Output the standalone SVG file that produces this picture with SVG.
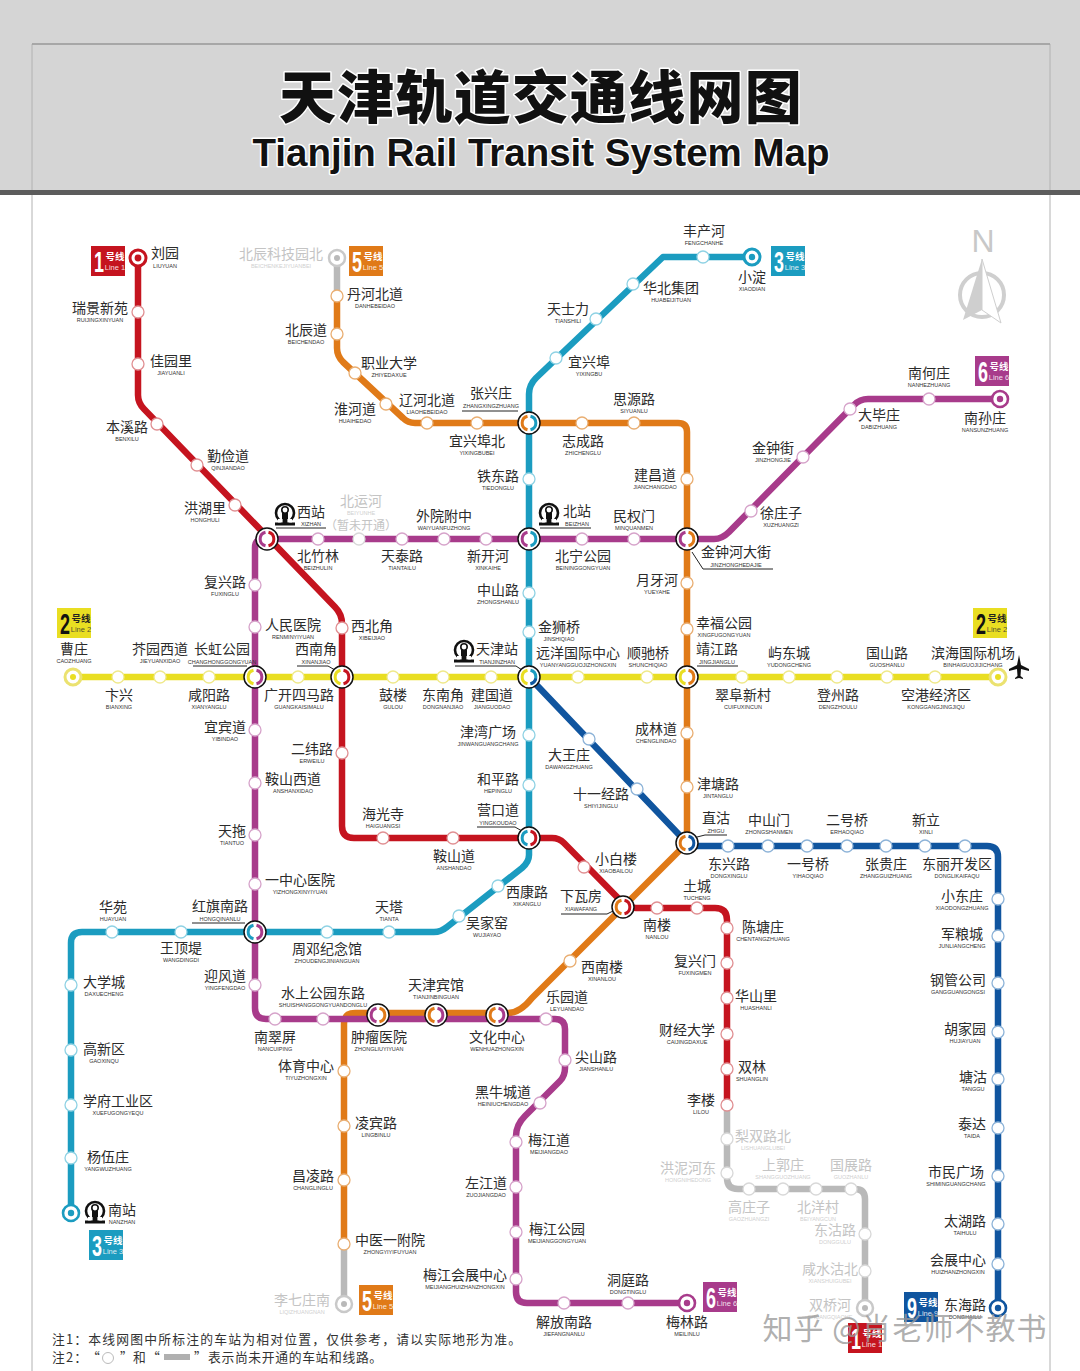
<svg xmlns="http://www.w3.org/2000/svg" xmlns:xlink="http://www.w3.org/1999/xlink" width="1080" height="1371" viewBox="0 0 1080 1371">
<style>
text{font-family:"Noto Sans CJK SC","Liberation Sans",sans-serif;text-anchor:middle}
.cn{font-size:14px;fill:#2b2b2b}
.py{font-size:5.5px;fill:#333;font-family:"Liberation Sans",sans-serif}
.g .cn{fill:#c4c4c4}.g .py{fill:#d0d0d0}
.ln{fill:none;stroke-width:6.5;stroke-linejoin:round}
.l1{stroke:#c5141f}.l2{stroke:#e9de22}.l3{stroke:#1b9cc0}.l5{stroke:#e07a18}.l6{stroke:#a83b8b}.l9{stroke:#10559f}.lg{stroke:#b9b9b9}
.s{fill:#fff;stroke-width:1.3;r:6px}
.s1{stroke:#e08f92}.s2{stroke:#efe98a}.s3{stroke:#8fd2e4}.s5{stroke:#e9ae72}.s6{stroke:#d6a3ca}.s9{stroke:#8db3d8}.sg{stroke:#d8d8d8}
.x{fill:#fff;stroke:#111;stroke-width:1.5}
.c{fill:none;stroke-width:3}
.lead{fill:none;stroke:#222;stroke-width:1}
.bn{font-size:29px;font-weight:700;font-family:"Liberation Sans",sans-serif;fill:#fff}
.bh{font-size:9.500px;font-weight:700;fill:#fff}
.bl{font-size:7.500px;font-family:"Liberation Sans",sans-serif;fill:#fff;fill-opacity:.85}
.y .bn{fill:#111}.y .bh{fill:#222}.y .bl{fill:#333}
.note{font-size:12.800px;text-anchor:start;fill:#333}
</style>
<defs>
<path id="cl" d="M-1.5,-6.8A7,7 0 0 0 -1.5,6.8"/>
<path id="cr" d="M1.5,-6.8A7,7 0 0 1 1.5,6.8"/>
<g id="rail"><circle cx="0" cy="-2" r="9" fill="none" stroke="#111" stroke-width="2.6"/><rect x="-3" y="-5" width="6" height="12" fill="#111"/><circle cx="0" cy="-5" r="3.2" fill="#fff" stroke="#111" stroke-width="1.6"/><rect x="-10" y="7.500" width="20" height="3" fill="#111"/><rect x="-7" y="4" width="14" height="3.400" fill="#fff"/><rect x="-2.400" y="3" width="4.800" height="5" fill="#111"/></g>
</defs>
<rect width="1080" height="1371" fill="#fff"/>
<g id="header">
<rect x="0" y="0" width="1080" height="190" fill="#d5d5d5"/>
<path d="M32,1371V44H1050V1371" fill="none" stroke="#b2b2b2" stroke-width="1"/>
<path d="M32,44H1050" fill="none" stroke="#9e9e9e" stroke-width="1.5"/>
<rect x="0" y="190" width="1080" height="5" fill="#5c5c5c"/>
<text x="541" y="118" style="font-size:57px;font-weight:900;letter-spacing:1.2px;paint-order:stroke;stroke:#fff;stroke-width:3px;stroke-linejoin:round" fill="#111">天津轨道交通线网图</text>
<text x="541" y="166" style="font-family:'Liberation Sans',sans-serif;font-size:38.5px;font-weight:700;paint-order:stroke;stroke:#fff;stroke-width:3px;stroke-linejoin:round" fill="#111">Tianjin Rail Transit System Map</text>
</g>
<g id="connectors">
<path class="ln lg" d="M337,258V296"/>
<path class="ln lg" d="M344,1244V1304"/>
<path class="ln lg" d="M727,1105V1178Q727,1189 738,1189H855Q865,1189 865,1199V1308"/>
<path class="ln l3" d="M752,257H663L536,378Q529,385 529,394V855Q529,862 522,868L447,927Q441,932 434,932H82Q71,932 71,943V1213"/>
<path class="ln l5" d="M337,296V348Q337,356 343,362L403,418Q408,423 415,423H678Q687,423 687,432V843L532,998Q520,1013 508,1013H355Q344,1013 344,1024V1244"/>
<path class="ln l6" d="M1000,399H868Q860,399 854,405L729,532Q722,539 714,539H264Q255,539 255,548V1008Q255,1019 266,1019H555Q565,1019 565,1029V1068Q565,1076 560,1081L525,1116Q516,1125 516,1136V1292Q516,1303 527,1303H687"/>
<path class="ln l2" d="M73,677H998"/>
<path class="ln l1" d="M138,258V395Q138,403 144,409L335,607Q342,614 342,624V826Q342,838 354,838H552Q559,838 564,843L620,900Q627,908 636,908H715Q727,908 727,920V1105"/>
<path class="ln l9" d="M529,677L687,843Q689,846 694,846H987Q998,846 998,857V1308"/>
</g>
<g id="leaders">
<path class="lead" d="M462,411H518M276,528H326M540,528H591M455,666H516L522,670M193,666H247M297,666H328L335,670M697,666H738M692,552L703,569H773M697,837L705,835H727M561,914H607L613,911M477,827H515L522,831M192,923H245"/>
</g>
<g id="nodes">
<g id="liuyuan"><circle cx="138" cy="258" r="8" fill="#fff" stroke="#c5141f" stroke-width="3"/><circle cx="138" cy="258" r="3.400" fill="#c5141f"/><text class="cn" x="165" y="258">刘园</text><text class="py" x="165" y="268">LIUYUAN</text></g>
<g id="ruijing"><circle class="s s1" cx="138" cy="312"/><text class="cn" x="100" y="313">瑞景新苑</text><text class="py" x="100" y="322">RUIJINGXINYUAN</text></g>
<g id="jiayuanli"><circle class="s s1" cx="138" cy="364"/><text class="cn" x="171" y="366">佳园里</text><text class="py" x="171" y="375">JIAYUANLI</text></g>
<g id="benxilu"><circle class="s s1" cx="157" cy="424"/><text class="cn" x="127" y="432">本溪路</text><text class="py" x="127" y="441">BENXILU</text></g>
<g id="qinjiandao"><circle class="s s1" cx="197" cy="465"/><text class="cn" x="228" y="461">勤俭道</text><text class="py" x="228" y="470">QINJIANDAO</text></g>
<g id="honghuli"><circle class="s s1" cx="235" cy="505"/><text class="cn" x="205" y="513">洪湖里</text><text class="py" x="205" y="522">HONGHULI</text></g>
<g id="xibeijiao"><circle class="s s1" cx="342" cy="628"/><text class="cn" x="372" y="631">西北角</text><text class="py" x="372" y="640">XIBEIJIAO</text></g>
<g id="erweilu"><circle class="s s1" cx="342" cy="753"/><text class="cn" x="312" y="754">二纬路</text><text class="py" x="312" y="763">ERWEILU</text></g>
<g id="haiguangsi"><circle class="s s1" cx="383" cy="838"/><text class="cn" x="383" y="819">海光寺</text><text class="py" x="383" y="828">HAIGUANGSI</text></g>
<g id="anshandao"><circle class="s s1" cx="453" cy="838"/><text class="cn" x="454" y="861">鞍山道</text><text class="py" x="454" y="870">ANSHANDAO</text></g>
<g id="xiaobailou"><circle class="s s1" cx="584" cy="867"/><text class="cn" x="616" y="864">小白楼</text><text class="py" x="616" y="873">XIAOBAILOU</text></g>
<g id="nanlou"><circle class="s s1" cx="657" cy="908"/><text class="cn" x="657" y="930">南楼</text><text class="py" x="657" y="939">NANLOU</text></g>
<g id="tucheng"><circle class="s s1" cx="697" cy="908"/><text class="cn" x="697" y="891">土城</text><text class="py" x="697" y="900">TUCHENG</text></g>
<g id="chentangzhuang"><circle class="s s1" cx="727" cy="928"/><text class="cn" x="763" y="932">陈塘庄</text><text class="py" x="763" y="941">CHENTANGZHUANG</text></g>
<g id="fuxingmen"><circle class="s s1" cx="727" cy="963"/><text class="cn" x="695" y="966">复兴门</text><text class="py" x="695" y="975">FUXINGMEN</text></g>
<g id="huashanli"><circle class="s s1" cx="727" cy="998"/><text class="cn" x="756" y="1001">华山里</text><text class="py" x="756" y="1010">HUASHANLI</text></g>
<g id="caijingdaxue"><circle class="s s1" cx="727" cy="1034"/><text class="cn" x="687" y="1035">财经大学</text><text class="py" x="687" y="1044">CAIJINGDAXUE</text></g>
<g id="shuanglin"><circle class="s s1" cx="727" cy="1069"/><text class="cn" x="752" y="1072">双林</text><text class="py" x="752" y="1081">SHUANGLIN</text></g>
<g id="lilou"><circle class="s s1" cx="727" cy="1105"/><text class="cn" x="701" y="1105">李楼</text><text class="py" x="701" y="1114">LILOU</text></g>
<g class="g" id="lishuanglubei"><circle class="s sg" cx="727" cy="1139"/><text class="cn" x="763" y="1141">梨双路北</text><text class="py" x="763" y="1150">LISHUANGLUBEI</text></g>
<g class="g" id="hongnihedong"><circle class="s sg" cx="727" cy="1173"/><text class="cn" x="688" y="1173">洪泥河东</text><text class="py" x="688" y="1182">HONGNIHEDONG</text></g>
<g class="g" id="gaozhuangzi"><circle class="s sg" cx="749" cy="1189"/><text class="cn" x="749" y="1212">高庄子</text><text class="py" x="749" y="1221">GAOZHUANGZI</text></g>
<g class="g" id="shangguozhuang"><circle class="s sg" cx="783" cy="1189"/><text class="cn" x="783" y="1170">上郭庄</text><text class="py" x="783" y="1179">SHANGGUOZHUANG</text></g>
<g class="g" id="beiyangcun"><circle class="s sg" cx="816" cy="1189"/><text class="cn" x="818" y="1212">北洋村</text><text class="py" x="818" y="1221">BEIYANGCUN</text></g>
<g class="g" id="guozhanlu"><circle class="s sg" cx="851" cy="1189"/><text class="cn" x="851" y="1170">国展路</text><text class="py" x="851" y="1179">GUOZHANLU</text></g>
<g class="g" id="dongguilu"><circle class="s sg" cx="865" cy="1234"/><text class="cn" x="835" y="1235">东沽路</text><text class="py" x="835" y="1244">DONGGULU</text></g>
<g class="g" id="xianshuigubei"><circle class="s sg" cx="865" cy="1271"/><text class="cn" x="830" y="1274">咸水沽北</text><text class="py" x="830" y="1283">XIANSHUIGUBEI</text></g>
<g class="g" id="shuangqiaohe"><circle cx="865" cy="1308" r="8" fill="#fff" stroke="#c9c9c9" stroke-width="2.500"/><circle cx="865" cy="1308" r="3" fill="#b9b9b9"/><text class="cn" x="830" y="1310">双桥河</text><text class="py" x="830" y="1319">SHUANGQIAOHE</text></g>

<g id="caozhuang"><circle cx="73" cy="677" r="8" fill="#fff" stroke="#ebe270" stroke-width="3"/><circle cx="73" cy="677" r="3" fill="#e9de22"/><text class="cn" x="74" y="654">曹庄</text><text class="py" x="74" y="663">CAOZHUANG</text></g>
<g id="bianxing"><circle class="s s2" cx="118" cy="677"/><text class="cn" x="119" y="700">卞兴</text><text class="py" x="119" y="709">BIANXING</text></g>
<g id="jieyuanxidao"><circle class="s s2" cx="160" cy="677"/><text class="cn" x="160" y="654">芥园西道</text><text class="py" x="160" y="663">JIEYUANXIDAO</text></g>
<g id="xianyanglu"><circle class="s s2" cx="209" cy="677"/><text class="cn" x="209" y="700">咸阳路</text><text class="py" x="209" y="709">XIANYANGLU</text></g>
<g id="guangkaisimalu"><circle class="s s2" cx="298" cy="677"/><text class="cn" x="299" y="700">广开四马路</text><text class="py" x="299" y="709">GUANGKAISIMALU</text></g>
<g id="gulou"><circle class="s s2" cx="393" cy="677"/><text class="cn" x="393" y="700">鼓楼</text><text class="py" x="393" y="709">GULOU</text></g>
<g id="dongnanjiao"><circle class="s s2" cx="443" cy="677"/><text class="cn" x="443" y="700">东南角</text><text class="py" x="443" y="709">DONGNANJIAO</text></g>
<g id="jianguodao"><circle class="s s2" cx="491" cy="677"/><text class="cn" x="492" y="700">建国道</text><text class="py" x="492" y="709">JIANGUODAO</text></g>
<g id="yuanyang"><circle class="s s2" cx="578" cy="677"/><text class="cn" x="578" y="658">远洋国际中心</text><text class="py" x="578" y="667">YUANYANGGUOJIZHONGXIN</text></g>
<g id="shunchiqiao"><circle class="s s2" cx="647" cy="677"/><text class="cn" x="648" y="658">顺驰桥</text><text class="py" x="648" y="667">SHUNCHIQIAO</text></g>
<g id="cuifuxincun"><circle class="s s2" cx="742" cy="677"/><text class="cn" x="743" y="700">翠阜新村</text><text class="py" x="743" y="709">CUIFUXINCUN</text></g>
<g id="yudongcheng"><circle class="s s2" cx="789" cy="677"/><text class="cn" x="789" y="658">屿东城</text><text class="py" x="789" y="667">YUDONGCHENG</text></g>
<g id="dengzhoulu"><circle class="s s2" cx="837" cy="677"/><text class="cn" x="838" y="700">登州路</text><text class="py" x="838" y="709">DENGZHOULU</text></g>
<g id="guoshanlu"><circle class="s s2" cx="887" cy="677"/><text class="cn" x="887" y="658">国山路</text><text class="py" x="887" y="667">GUOSHANLU</text></g>
<g id="konggang"><circle class="s s2" cx="935" cy="677"/><text class="cn" x="936" y="700">空港经济区</text><text class="py" x="936" y="709">KONGGANGJINGJIQU</text></g>
<g id="binhai"><circle cx="998" cy="677" r="8" fill="#fff" stroke="#ebe270" stroke-width="3"/><circle cx="998" cy="677" r="3" fill="#e9de22"/><text class="cn" x="973" y="658">滨海国际机场</text><text class="py" x="973" y="667">BINHAIGUOJIJICHANG</text></g>

<g id="xiaodian"><circle cx="752" cy="257" r="8" fill="#fff" stroke="#1b9cc0" stroke-width="3"/><circle cx="752" cy="257" r="3.200" fill="#1b9cc0"/><text class="cn" x="752" y="282">小淀</text><text class="py" x="752" y="291">XIAODIAN</text></g>
<g id="fengchanhe"><circle class="s s3" cx="703" cy="257"/><text class="cn" x="704" y="236">丰产河</text><text class="py" x="704" y="245">FENGCHANHE</text></g>
<g id="huabei"><circle class="s s3" cx="633" cy="284"/><text class="cn" x="671" y="293">华北集团</text><text class="py" x="671" y="302">HUABEIJITUAN</text></g>
<g id="tianshili"><circle class="s s3" cx="596" cy="319"/><text class="cn" x="568" y="314">天士力</text><text class="py" x="568" y="323">TIANSHILI</text></g>
<g id="yixingbu"><circle class="s s3" cx="556" cy="358"/><text class="cn" x="589" y="367">宜兴埠</text><text class="py" x="589" y="376">YIXINGBU</text></g>
<g id="tiedonglu"><circle class="s s3" cx="529" cy="479"/><text class="cn" x="498" y="481">铁东路</text><text class="py" x="498" y="490">TIEDONGLU</text></g>
<g id="zhongshanlu"><circle class="s s3" cx="529" cy="593"/><text class="cn" x="498" y="595">中山路</text><text class="py" x="498" y="604">ZHONGSHANLU</text></g>
<g id="jinshiqiao"><circle class="s s3" cx="529" cy="632"/><text class="cn" x="559" y="632">金狮桥</text><text class="py" x="559" y="641">JINSHIQIAO</text></g>
<g id="jinwan"><circle class="s s3" cx="529" cy="735"/><text class="cn" x="488" y="737">津湾广场</text><text class="py" x="488" y="746">JINWANGUANGCHANG</text></g>
<g id="hepinglu"><circle class="s s3" cx="529" cy="785"/><text class="cn" x="498" y="784">和平路</text><text class="py" x="498" y="793">HEPINGLU</text></g>
<g id="xikanglu"><circle class="s s3" cx="498" cy="886"/><text class="cn" x="527" y="897">西康路</text><text class="py" x="527" y="906">XIKANGLU</text></g>
<g id="wujiayao"><circle class="s s3" cx="459" cy="916"/><text class="cn" x="487" y="928">吴家窑</text><text class="py" x="487" y="937">WUJIAYAO</text></g>
<g id="tianta"><circle class="s s3" cx="389" cy="932"/><text class="cn" x="389" y="912">天塔</text><text class="py" x="389" y="921">TIANTA</text></g>
<g id="zhoudeng"><circle class="s s3" cx="327" cy="932"/><text class="cn" x="327" y="954">周邓纪念馆</text><text class="py" x="327" y="963">ZHOUDENGJINIANGUAN</text></g>
<g id="wangdingdi"><circle class="s s3" cx="181" cy="932"/><text class="cn" x="181" y="953">王顶堤</text><text class="py" x="181" y="962">WANGDINGDI</text></g>
<g id="huayuan"><circle class="s s3" cx="112" cy="932"/><text class="cn" x="113" y="912">华苑</text><text class="py" x="113" y="921">HUAYUAN</text></g>
<g id="daxuecheng"><circle class="s s3" cx="71" cy="985"/><text class="cn" x="104" y="987">大学城</text><text class="py" x="104" y="996">DAXUECHENG</text></g>
<g id="gaoxinqu"><circle class="s s3" cx="71" cy="1050"/><text class="cn" x="104" y="1054">高新区</text><text class="py" x="104" y="1063">GAOXINQU</text></g>
<g id="xuefu"><circle class="s s3" cx="71" cy="1105"/><text class="cn" x="118" y="1106">学府工业区</text><text class="py" x="118" y="1115">XUEFUGONGYEQU</text></g>
<g id="yangwuzhuang"><circle class="s s3" cx="71" cy="1158"/><text class="cn" x="108" y="1162">杨伍庄</text><text class="py" x="108" y="1171">YANGWUZHUANG</text></g>
<g id="nanzhan"><circle cx="71" cy="1213" r="8" fill="#fff" stroke="#1b9cc0" stroke-width="2.600"/><circle cx="71" cy="1213" r="3.200" fill="#1b9cc0"/><use xlink:href="#rail" x="95" y="1213"/><text class="cn" x="122" y="1215">南站</text><text class="py" x="122" y="1224">NANZHAN</text></g>

<g class="g" id="beichen"><circle cx="337" cy="258" r="8" fill="#fff" stroke="#c9c9c9" stroke-width="2.500"/><circle cx="337" cy="258" r="3" fill="#b9b9b9"/><text class="cn" x="281" y="259">北辰科技园北</text><text class="py" x="281" y="268">BEICHENKEJIYUANBEI</text></g>
<g id="danhe"><circle class="s s5" cx="337" cy="296"/><text class="cn" x="375" y="299">丹河北道</text><text class="py" x="375" y="308">DANHEBEIDAO</text></g>
<g id="beichendao"><circle class="s s5" cx="337" cy="334"/><text class="cn" x="306" y="335">北辰道</text><text class="py" x="306" y="344">BEICHENDAO</text></g>
<g id="zhiye"><circle class="s s5" cx="355" cy="373"/><text class="cn" x="389" y="368">职业大学</text><text class="py" x="389" y="377">ZHIYEDAXUE</text></g>
<g id="huaihedao"><circle class="s s5" cx="386" cy="404"/><text class="cn" x="355" y="414">淮河道</text><text class="py" x="355" y="423">HUAIHEDAO</text></g>
<g id="liaohe"><circle class="s s5" cx="427" cy="423"/><text class="cn" x="427" y="405">辽河北道</text><text class="py" x="427" y="414">LIAOHEBEIDAO</text></g>
<g id="yixingbubei"><circle class="s s5" cx="477" cy="423"/><text class="cn" x="477" y="446">宜兴埠北</text><text class="py" x="477" y="455">YIXINGBUBEI</text></g>
<g id="zhichenglu"><circle class="s s5" cx="582" cy="423"/><text class="cn" x="583" y="446">志成路</text><text class="py" x="583" y="455">ZHICHENGLU</text></g>
<g id="siyuanlu"><circle class="s s5" cx="634" cy="423"/><text class="cn" x="634" y="404">思源路</text><text class="py" x="634" y="413">SIYUANLU</text></g>
<g id="jianchangdao"><circle class="s s5" cx="687" cy="479"/><text class="cn" x="655" y="480">建昌道</text><text class="py" x="655" y="489">JIANCHANGDAO</text></g>
<g id="yueyahe"><circle class="s s5" cx="687" cy="583"/><text class="cn" x="657" y="585">月牙河</text><text class="py" x="657" y="594">YUEYAHE</text></g>
<g id="xingfu"><circle class="s s5" cx="687" cy="629"/><text class="cn" x="724" y="628">幸福公园</text><text class="py" x="724" y="637">XINGFUGONGYUAN</text></g>
<g id="chenglindao"><circle class="s s5" cx="687" cy="733"/><text class="cn" x="656" y="734">成林道</text><text class="py" x="656" y="743">CHENGLINDAO</text></g>
<g id="jintanglu"><circle class="s s5" cx="687" cy="787"/><text class="cn" x="718" y="789">津塘路</text><text class="py" x="718" y="798">JINTANGLU</text></g>
<g id="xinanlou"><circle class="s s5" cx="570" cy="961"/><text class="cn" x="602" y="972">西南楼</text><text class="py" x="602" y="981">XINANLOU</text></g>
<g id="tiyu"><circle class="s s5" cx="344" cy="1071"/><text class="cn" x="306" y="1071">体育中心</text><text class="py" x="306" y="1080">TIYUZHONGXIN</text></g>
<g id="lingbin"><circle class="s s5" cx="344" cy="1126"/><text class="cn" x="376" y="1128">凌宾路</text><text class="py" x="376" y="1137">LINGBINLU</text></g>
<g id="changling"><circle class="s s5" cx="344" cy="1180"/><text class="cn" x="313" y="1181">昌凌路</text><text class="py" x="313" y="1190">CHANGLINGLU</text></g>
<g id="zhongyi"><circle class="s s5" cx="344" cy="1244"/><text class="cn" x="390" y="1245">中医一附院</text><text class="py" x="390" y="1254">ZHONGYIYIFUYUAN</text></g>
<g class="g" id="liqizhuangnan"><circle cx="344" cy="1304" r="8" fill="#fff" stroke="#c9c9c9" stroke-width="2.500"/><circle cx="344" cy="1304" r="3" fill="#b9b9b9"/><text class="cn" x="302" y="1305">李七庄南</text><text class="py" x="302" y="1314">LIQIZHUANGNAN</text></g>

<g id="nansunzhuang"><circle cx="1000" cy="399" r="8" fill="#fff" stroke="#a83b8b" stroke-width="2.600"/><circle cx="1000" cy="399" r="3.200" fill="#a83b8b"/><text class="cn" x="985" y="423">南孙庄</text><text class="py" x="985" y="432">NANSUNZHUANG</text></g>
<g id="nanhezhuang"><circle class="s s6" cx="929" cy="399"/><text class="cn" x="929" y="378">南何庄</text><text class="py" x="929" y="387">NANHEZHUANG</text></g>
<g id="dabizhuang"><circle class="s s6" cx="850" cy="409"/><text class="cn" x="879" y="420">大毕庄</text><text class="py" x="879" y="429">DABIZHUANG</text></g>
<g id="jinzhongjie"><circle class="s s6" cx="803" cy="457"/><text class="cn" x="773" y="453">金钟街</text><text class="py" x="773" y="462">JINZHONGJIE</text></g>
<g id="xuzhuangzi"><circle class="s s6" cx="751" cy="511"/><text class="cn" x="781" y="518">徐庄子</text><text class="py" x="781" y="527">XUZHUANGZI</text></g>
<g id="minquanmen"><circle class="s s6" cx="634" cy="539"/><text class="cn" x="634" y="521">民权门</text><text class="py" x="634" y="530">MINQUANMEN</text></g>
<g id="beining"><circle class="s s6" cx="582" cy="539"/><text class="cn" x="583" y="561">北宁公园</text><text class="py" x="583" y="570">BEININGGONGYUAN</text></g>
<g id="xinkaihe"><circle class="s s6" cx="486" cy="539"/><text class="cn" x="488" y="561">新开河</text><text class="py" x="488" y="570">XINKAIHE</text></g>
<g id="waiyuan"><circle class="s s6" cx="444" cy="539"/><text class="cn" x="444" y="521">外院附中</text><text class="py" x="444" y="530">WAIYUANFUZHONG</text></g>
<g id="tiantailu"><circle class="s s6" cx="402" cy="539"/><text class="cn" x="402" y="561">天泰路</text><text class="py" x="402" y="570">TIANTAILU</text></g>
<g class="g" id="beiyunhe"><circle class="s sg" cx="359" cy="539"/><text class="cn" x="361" y="506">北运河</text><text class="py" x="361" y="515">BEIYUNHE</text><text class="cn" x="361" y="530" style="font-size:12px">（暂未开通）</text></g>
<g id="beizhulin"><circle class="s s6" cx="318" cy="539"/><text class="cn" x="318" y="561">北竹林</text><text class="py" x="318" y="570">BEIZHULIN</text></g>
<g id="fuxinglu"><circle class="s s6" cx="255" cy="585"/><text class="cn" x="225" y="587">复兴路</text><text class="py" x="225" y="596">FUXINGLU</text></g>
<g id="renmin"><circle class="s s6" cx="255" cy="627"/><text class="cn" x="293" y="630">人民医院</text><text class="py" x="293" y="639">RENMINYIYUAN</text></g>
<g id="yibindao"><circle class="s s6" cx="255" cy="730"/><text class="cn" x="225" y="732">宜宾道</text><text class="py" x="225" y="741">YIBINDAO</text></g>
<g id="anshanxi"><circle class="s s6" cx="255" cy="783"/><text class="cn" x="293" y="784">鞍山西道</text><text class="py" x="293" y="793">ANSHANXIDAO</text></g>
<g id="tiantuo"><circle class="s s6" cx="255" cy="835"/><text class="cn" x="232" y="836">天拖</text><text class="py" x="232" y="845">TIANTUO</text></g>
<g id="yizhongxin"><circle class="s s6" cx="255" cy="884"/><text class="cn" x="300" y="885">一中心医院</text><text class="py" x="300" y="894">YIZHONGXINYIYUAN</text></g>
<g id="yingfeng"><circle class="s s6" cx="255" cy="985"/><text class="cn" x="225" y="981">迎风道</text><text class="py" x="225" y="990">YINGFENGDAO</text></g>
<g id="nancuiping"><circle class="s s6" cx="275" cy="1019"/><text class="cn" x="275" y="1042">南翠屏</text><text class="py" x="275" y="1051">NANCUIPING</text></g>
<g id="shuishang"><circle class="s s6" cx="323" cy="1019"/><text class="cn" x="323" y="998">水上公园东路</text><text class="py" x="323" y="1007">SHUISHANGGONGYUANDONGLU</text></g>
<g id="leyuandao"><circle class="s s6" cx="546" cy="1019"/><text class="cn" x="567" y="1002">乐园道</text><text class="py" x="567" y="1011">LEYUANDAO</text></g>
<g id="jianshanlu"><circle class="s s6" cx="565" cy="1060"/><text class="cn" x="596" y="1062">尖山路</text><text class="py" x="596" y="1071">JIANSHANLU</text></g>
<g id="heiniu"><circle class="s s6" cx="540" cy="1103"/><text class="cn" x="503" y="1097">黑牛城道</text><text class="py" x="503" y="1106">HEINIUCHENGDAO</text></g>
<g id="meijiangdao"><circle class="s s6" cx="516" cy="1142"/><text class="cn" x="549" y="1145">梅江道</text><text class="py" x="549" y="1154">MEIJIANGDAO</text></g>
<g id="zuojiangdao"><circle class="s s6" cx="516" cy="1187"/><text class="cn" x="486" y="1188">左江道</text><text class="py" x="486" y="1197">ZUOJIANGDAO</text></g>
<g id="meijianggy"><circle class="s s6" cx="516" cy="1232"/><text class="cn" x="557" y="1234">梅江公园</text><text class="py" x="557" y="1243">MEIJIANGGONGYUAN</text></g>
<g id="meijianghz"><circle class="s s6" cx="516" cy="1279"/><text class="cn" x="465" y="1280">梅江会展中心</text><text class="py" x="465" y="1289">MEIJIANGHUIZHANZHONGXIN</text></g>
<g id="jiefangnan"><circle class="s s6" cx="564" cy="1303"/><text class="cn" x="564" y="1327">解放南路</text><text class="py" x="564" y="1336">JIEFANGNANLU</text></g>
<g id="dongtinglu"><circle class="s s6" cx="628" cy="1303"/><text class="cn" x="628" y="1285">洞庭路</text><text class="py" x="628" y="1294">DONGTINGLU</text></g>
<g id="meilinlu"><circle cx="687" cy="1303" r="8" fill="#fff" stroke="#a83b8b" stroke-width="2.600"/><circle cx="687" cy="1303" r="3.200" fill="#a83b8b"/><text class="cn" x="687" y="1327">梅林路</text><text class="py" x="687" y="1336">MEILINLU</text></g>

<g id="dawangzhuang"><circle class="s s9" cx="589" cy="739"/><text class="cn" x="569" y="760">大王庄</text><text class="py" x="569" y="769">DAWANGZHUANG</text></g>
<g id="shiyijinglu"><circle class="s s9" cx="637" cy="789"/><text class="cn" x="601" y="799">十一经路</text><text class="py" x="601" y="808">SHIYIJINGLU</text></g>
<g id="dongxinglu"><circle class="s s9" cx="728" cy="846"/><text class="cn" x="729" y="869">东兴路</text><text class="py" x="729" y="878">DONGXINGLU</text></g>
<g id="zhongshanmen"><circle class="s s9" cx="768" cy="846"/><text class="cn" x="769" y="825">中山门</text><text class="py" x="769" y="834">ZHONGSHANMEN</text></g>
<g id="yihaoqiao"><circle class="s s9" cx="807" cy="846"/><text class="cn" x="808" y="869">一号桥</text><text class="py" x="808" y="878">YIHAOQIAO</text></g>
<g id="erhaoqiao"><circle class="s s9" cx="847" cy="846"/><text class="cn" x="847" y="825">二号桥</text><text class="py" x="847" y="834">ERHAOQIAO</text></g>
<g id="zhangguizhuang"><circle class="s s9" cx="886" cy="846"/><text class="cn" x="886" y="869">张贵庄</text><text class="py" x="886" y="878">ZHANGGUIZHUANG</text></g>
<g id="xinli"><circle class="s s9" cx="925" cy="846"/><text class="cn" x="926" y="825">新立</text><text class="py" x="926" y="834">XINLI</text></g>
<g id="dongli"><circle class="s s9" cx="965" cy="846"/><text class="cn" x="957" y="869">东丽开发区</text><text class="py" x="957" y="878">DONGLIKAIFAQU</text></g>
<g id="xiaodongzhuang"><circle class="s s9" cx="998" cy="899"/><text class="cn" x="962" y="901">小东庄</text><text class="py" x="962" y="910">XIAODONGZHUANG</text></g>
<g id="junliangcheng"><circle class="s s9" cx="998" cy="936"/><text class="cn" x="962" y="939">军粮城</text><text class="py" x="962" y="948">JUNLIANGCHENG</text></g>
<g id="gangguan"><circle class="s s9" cx="998" cy="983"/><text class="cn" x="958" y="985">钢管公司</text><text class="py" x="958" y="994">GANGGUANGONGSI</text></g>
<g id="hujiayuan"><circle class="s s9" cx="998" cy="1032"/><text class="cn" x="965" y="1034">胡家园</text><text class="py" x="965" y="1043">HUJIAYUAN</text></g>
<g id="tanggu"><circle class="s s9" cx="998" cy="1079"/><text class="cn" x="973" y="1082">塘沽</text><text class="py" x="973" y="1091">TANGGU</text></g>
<g id="taida"><circle class="s s9" cx="998" cy="1128"/><text class="cn" x="972" y="1129">泰达</text><text class="py" x="972" y="1138">TAIDA</text></g>
<g id="shimin"><circle class="s s9" cx="998" cy="1176"/><text class="cn" x="956" y="1177">市民广场</text><text class="py" x="956" y="1186">SHIMINGUANGCHANG</text></g>
<g id="taihulu"><circle class="s s9" cx="998" cy="1224"/><text class="cn" x="965" y="1226">太湖路</text><text class="py" x="965" y="1235">TAIHULU</text></g>
<g id="huizhan"><circle class="s s9" cx="998" cy="1264"/><text class="cn" x="958" y="1265">会展中心</text><text class="py" x="958" y="1274">HUIZHANZHONGXIN</text></g>
<g id="donghailu"><circle cx="998" cy="1308" r="8" fill="#fff" stroke="#10559f" stroke-width="2.600"/><circle cx="998" cy="1308" r="3.200" fill="#10559f"/><text class="cn" x="965" y="1310">东海路</text><text class="py" x="965" y="1319">DONGHAILU</text></g>

<g id="xizhan"><g transform="translate(267,539)"><circle class="x" r="11"/><use xlink:href="#cl" class="c l6"/><use xlink:href="#cr" class="c l1"/></g><use xlink:href="#rail" x="285" y="515"/><text class="cn" x="311" y="517">西站</text><text class="py" x="311" y="526">XIZHAN</text></g>
<g id="zhangxingzhuang"><g transform="translate(529,423)"><circle class="x" r="11"/><use xlink:href="#cl" class="c l5"/><use xlink:href="#cr" class="c l3"/></g><text class="cn" x="491" y="398">张兴庄</text><text class="py" x="491" y="408">ZHANGXINGZHUANG</text></g>
<g id="beizhan"><g transform="translate(529,539)"><circle class="x" r="11"/><use xlink:href="#cl" class="c l6"/><use xlink:href="#cr" class="c l3"/></g><use xlink:href="#rail" x="549" y="515"/><text class="cn" x="577" y="516">北站</text><text class="py" x="577" y="526">BEIZHAN</text></g>
<g id="jinzhonghe"><g transform="translate(687,539)"><circle class="x" r="11"/><use xlink:href="#cl" class="c l6"/><use xlink:href="#cr" class="c l5"/></g><text class="cn" x="736" y="557">金钟河大街</text><text class="py" x="736" y="567">JINZHONGHEDAJIE</text></g>
<g id="changhong"><g transform="translate(255,677)"><circle class="x" r="11"/><use xlink:href="#cl" class="c l2"/><use xlink:href="#cr" class="c l6"/></g><text class="cn" x="222" y="654">长虹公园</text><text class="py" x="222" y="664">CHANGHONGGONGYUAN</text></g>
<g id="xinanjiao"><g transform="translate(342,677)"><circle class="x" r="11"/><use xlink:href="#cl" class="c l2"/><use xlink:href="#cr" class="c l1"/></g><text class="cn" x="316" y="654">西南角</text><text class="py" x="316" y="664">XINANJIAO</text></g>
<g id="tianjinzhan"><g transform="translate(529,677)"><circle class="x" r="11"/><use xlink:href="#cl" class="c l2"/><use xlink:href="#cr" class="c l3"/><path class="c l9" d="M6.800,1.500A7,7 0 0 1 1.500,6.800"/></g><use xlink:href="#rail" x="464" y="652"/><text class="cn" x="497" y="654">天津站</text><text class="py" x="497" y="664">TIANJINZHAN</text></g>
<g id="jingjianglu"><g transform="translate(687,677)"><circle class="x" r="11"/><use xlink:href="#cl" class="c l2"/><use xlink:href="#cr" class="c l5"/></g><text class="cn" x="717" y="654">靖江路</text><text class="py" x="717" y="664">JINGJIANGLU</text></g>
<g id="yingkoudao"><g transform="translate(529,838)"><circle class="x" r="11"/><use xlink:href="#cl" class="c l3"/><use xlink:href="#cr" class="c l1"/></g><text class="cn" x="498" y="815">营口道</text><text class="py" x="498" y="825">YINGKOUDAO</text></g>
<g id="zhigu"><g transform="translate(687,843)"><circle class="x" r="11"/><use xlink:href="#cl" class="c l5"/><use xlink:href="#cr" class="c l9"/></g><text class="cn" x="716" y="823">直沽</text><text class="py" x="716" y="833">ZHIGU</text></g>
<g id="xiawafang"><g transform="translate(623,907)"><circle class="x" r="11"/><use xlink:href="#cl" class="c l5"/><use xlink:href="#cr" class="c l1"/></g><text class="cn" x="581" y="901">下瓦房</text><text class="py" x="581" y="911">XIAWAFANG</text></g>
<g id="hongqinanlu"><g transform="translate(255,932)"><circle class="x" r="11"/><use xlink:href="#cl" class="c l3"/><use xlink:href="#cr" class="c l6"/></g><text class="cn" x="220" y="911">红旗南路</text><text class="py" x="220" y="921">HONGQINANLU</text></g>
<g id="zhongliu"><g transform="translate(378,1015)"><circle class="x" r="11"/><use xlink:href="#cl" class="c l6"/><use xlink:href="#cr" class="c l5"/></g><text class="cn" x="379" y="1042">肿瘤医院</text><text class="py" x="379" y="1051">ZHONGLIUYIYUAN</text></g>
<g id="tianjinbinguan"><g transform="translate(436,1015)"><circle class="x" r="11"/><use xlink:href="#cl" class="c l5"/><use xlink:href="#cr" class="c l6"/></g><text class="cn" x="436" y="990">天津宾馆</text><text class="py" x="436" y="999">TIANJINBINGUAN</text></g>
<g id="wenhua"><g transform="translate(497,1015)"><circle class="x" r="11"/><use xlink:href="#cl" class="c l5"/><use xlink:href="#cr" class="c l6"/></g><text class="cn" x="497" y="1042">文化中心</text><text class="py" x="497" y="1051">WENHUAZHONGXIN</text></g>
</g>
<g id="badges">
<g id="b1a"><rect x="91" y="246" width="34" height="30" fill="#c5141f"/><text class="bn" x="99" y="272" textLength="10" lengthAdjust="spacingAndGlyphs">1</text><text class="bh" x="115" y="260">号线</text><text class="bl" x="115" y="270">Line 1</text></g>
<g id="b5a"><rect x="349" y="246" width="34" height="30" fill="#e07a18"/><text class="bn" x="357" y="272" textLength="10" lengthAdjust="spacingAndGlyphs">5</text><text class="bh" x="373" y="260">号线</text><text class="bl" x="373" y="270">Line 5</text></g>
<g id="b3a"><rect x="771" y="246" width="34" height="30" fill="#1b9cc0"/><text class="bn" x="779" y="272" textLength="10" lengthAdjust="spacingAndGlyphs">3</text><text class="bh" x="795" y="260">号线</text><text class="bl" x="795" y="270">Line 3</text></g>
<g id="b6a"><rect x="975" y="356" width="34" height="30" fill="#a83b8b"/><text class="bn" x="983" y="382" textLength="10" lengthAdjust="spacingAndGlyphs">6</text><text class="bh" x="999" y="370">号线</text><text class="bl" x="999" y="380">Line 6</text></g>
<g class="y" id="b2a"><rect x="57" y="608" width="34" height="30" fill="#e9de22"/><text class="bn" x="65" y="634" textLength="10" lengthAdjust="spacingAndGlyphs">2</text><text class="bh" x="81" y="622">号线</text><text class="bl" x="81" y="632">Line 2</text></g>
<g class="y" id="b2b"><rect x="973" y="608" width="34" height="30" fill="#e9de22"/><text class="bn" x="981" y="634" textLength="10" lengthAdjust="spacingAndGlyphs">2</text><text class="bh" x="997" y="622">号线</text><text class="bl" x="997" y="632">Line 2</text></g>
<g id="b3b"><rect x="89" y="1230" width="34" height="30" fill="#1b9cc0"/><text class="bn" x="97" y="1256" textLength="10" lengthAdjust="spacingAndGlyphs">3</text><text class="bh" x="113" y="1244">号线</text><text class="bl" x="113" y="1254">Line 3</text></g>
<g id="b5b"><rect x="359" y="1285" width="34" height="30" fill="#e07a18"/><text class="bn" x="367" y="1311" textLength="10" lengthAdjust="spacingAndGlyphs">5</text><text class="bh" x="383" y="1299">号线</text><text class="bl" x="383" y="1309">Line 5</text></g>
<g id="b6b"><rect x="703" y="1282" width="34" height="30" fill="#a83b8b"/><text class="bn" x="711" y="1308" textLength="10" lengthAdjust="spacingAndGlyphs">6</text><text class="bh" x="727" y="1296">号线</text><text class="bl" x="727" y="1306">Line 6</text></g>
<g id="b9"><rect x="904" y="1292" width="34" height="30" fill="#10559f"/><text class="bn" x="912" y="1318" textLength="10" lengthAdjust="spacingAndGlyphs">9</text><text class="bh" x="928" y="1306">号线</text><text class="bl" x="928" y="1316">Line 9</text></g>
<g id="b1b"><rect x="848" y="1323" width="34" height="30" fill="#c5141f"/><text class="bn" x="856" y="1349" textLength="10" lengthAdjust="spacingAndGlyphs">1</text><text class="bh" x="872" y="1337">号线</text><text class="bl" x="872" y="1347">Line 1</text></g>
</g>
<g id="compass">
<text x="983" y="252" style="font-family:'Liberation Sans',sans-serif;font-size:32px" fill="#c8c8c8">N</text>
<circle cx="982" cy="295" r="22" fill="none" stroke="#cfcfcf" stroke-width="4"/>
<path d="M982,259L963,320L982,310Z" fill="#cfcfcf"/>
<path d="M982,259L1001,323L982,310Z" fill="#fff" stroke="#cfcfcf" stroke-width="1"/>
</g>
<g id="plane"><path d="M1019,655L1021,665L1029,669V671L1021,669L1020.500,676L1023,678V679L1019,678L1015,679V678L1017.500,676L1017,669L1009,671V669L1017,665Z" fill="#111"/></g>
<g id="notes">
<text class="note" x="52" y="1344" style="letter-spacing:1.2px">注1：本线网图中所标注的车站为相对位置，仅供参考，请以实际地形为准。</text>
<text class="note" x="52" y="1362" style="letter-spacing:1.2px">注2：</text>
<text class="note" x="87" y="1362">“</text>
<circle cx="108" cy="1358" r="5.500" fill="#fff" stroke="#bbb" stroke-width="1"/>
<text class="note" x="120" y="1362">”</text>
<text class="note" x="133" y="1362">和</text>
<text class="note" x="147" y="1362">“</text>
<rect x="164" y="1354" width="26" height="6" fill="#b0b0b0"/>
<text class="note" x="194" y="1362">”</text>
<text class="note" x="208" y="1362" style="letter-spacing:.65px">表示尚未开通的车站和线路。</text>
</g>
<g id="watermark"><text x="905" y="1339" style="font-size:30px;letter-spacing:1px" fill="#9a9a9a" fill-opacity=".8">知乎 @肖老师不教书</text></g>
</svg>
